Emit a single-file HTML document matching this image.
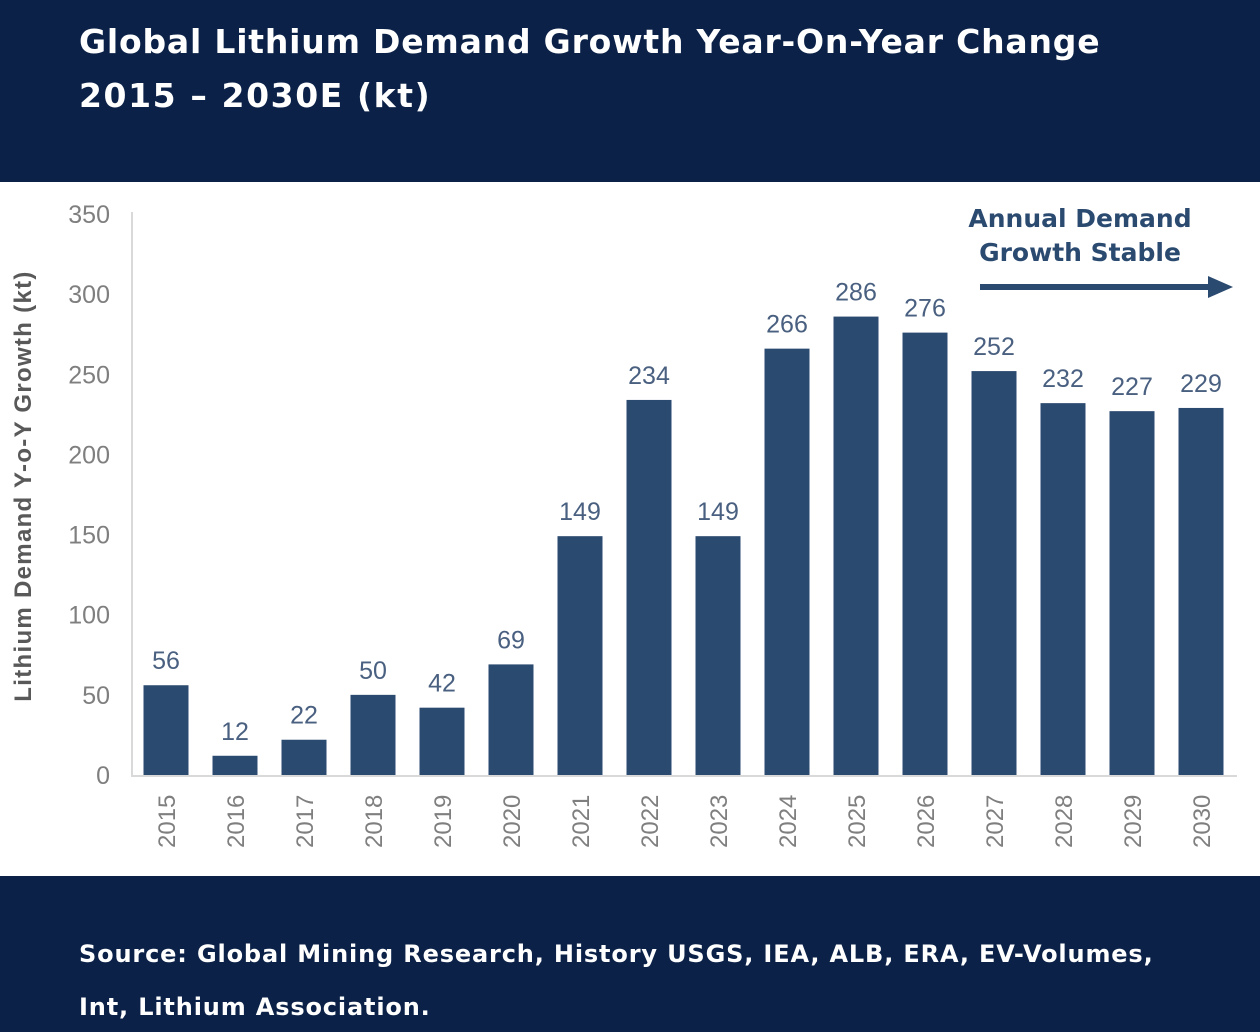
<!DOCTYPE html>
<html><head><meta charset="utf-8"><style>
body{margin:0;width:1260px;height:1032px;overflow:hidden;background:#fff;font-family:"Liberation Sans",sans-serif}
#hdr{position:absolute;left:0;top:0;width:1260px;height:182px;background:#0b2147}
#hdr div{position:absolute;left:79px;color:#fff;font-weight:bold;font-size:33px;font-family:"DejaVu Sans","Liberation Sans",sans-serif;letter-spacing:0.8px}
#ftr{position:absolute;left:0;top:876px;width:1260px;height:156px;background:#0b2147}
#ftr div{position:absolute;left:79px;color:#fff;font-weight:bold;font-size:24px;font-family:"DejaVu Sans","Liberation Sans",sans-serif;letter-spacing:0.85px}
svg{position:absolute;left:0;top:0}
</style></head><body>
<div id="hdr">
<div style="top:22px">Global Lithium Demand Growth Year-On-Year Change</div>
<div style="top:76px;letter-spacing:1.6px">2015 – 2030E (kt)</div>
</div>
<svg id="chart" width="1260" height="1032"></svg>
<div id="ftr">
<div style="top:64px">Source: Global Mining Research, History USGS, IEA, ALB, ERA, EV-Volumes,</div>
<div style="top:117px">Int, Lithium Association.</div>
</div>
<script>
const categories=["2015","2016","2017","2018","2019","2020","2021","2022","2023","2024","2025","2026","2027","2028","2029","2030"];
const values=[56,12,22,50,42,69,149,234,149,266,286,276,252,232,227,229];
const yTicks=[0,50,100,150,200,250,300,350];
const NS="http://www.w3.org/2000/svg";
const svg=document.getElementById('chart');
const y0=775,yTop=214,yMax=350;
function y(v){return y0-(v/yMax)*(y0-yTop);}
function x(i){return 166+i*69;}
const bw=45;
function mk(t,a,txt){const e=document.createElementNS(NS,t);for(const k in a)e.setAttribute(k,a[k]);if(txt!==undefined)e.textContent=txt;svg.appendChild(e);return e;}
let e;
e=mk('line',{x1:132,y1:212,x2:132,y2:776,stroke:'#d9d9d9','stroke-width':2});


e=mk('line',{x1:131,y1:776,x2:1237,y2:776,stroke:'#d9d9d9','stroke-width':2});


yTicks.forEach(t=>{
 e=mk('text',{x:110,y:y(t)+9,'text-anchor':'end','font-size':25,fill:'#7f7f7f','font-family':'Liberation Sans, sans-serif'},t);
 
 
});
categories.forEach((c,i)=>{
 const v=values[i];
 e=mk('rect',{x:x(i)-bw/2,y:y(v),width:bw,height:y0-y(v),fill:'#2b4a70'});
 
 
 e=mk('text',{x:x(i),y:y(v)-16,'text-anchor':'middle','font-size':25,fill:'#4a6080','font-family':'Liberation Sans, sans-serif'},v);
 
 
 e=mk('text',{x:0,y:0,transform:`translate(${x(i)+9},848) rotate(-90)`,'font-size':24,fill:'#7f7f7f','font-family':'Liberation Sans, sans-serif'},c);
 
 
});
e=mk('text',{x:0,y:0,transform:'translate(31,486) rotate(-90)','text-anchor':'middle','font-size':24,'letter-spacing':1.3,'font-weight':'bold',fill:'#595959','font-family':'Liberation Sans, sans-serif'},'Lithium Demand Y-o-Y Growth (kt)');


e=mk('text',{x:1080,y:227,'text-anchor':'middle','font-size':25,'font-weight':'bold',fill:'#2b4a70','font-family':'DejaVu Sans, sans-serif'},'Annual Demand');


e=mk('text',{x:1080,y:261,'text-anchor':'middle','font-size':25,'font-weight':'bold',fill:'#2b4a70','font-family':'DejaVu Sans, sans-serif'},'Growth Stable');


e=mk('line',{x1:980,y1:287,x2:1212,y2:287,stroke:'#2b4a70','stroke-width':6});


e=mk('polygon',{points:'1208,276 1233,287 1208,298',fill:'#2b4a70'});


</script>
</body></html>
